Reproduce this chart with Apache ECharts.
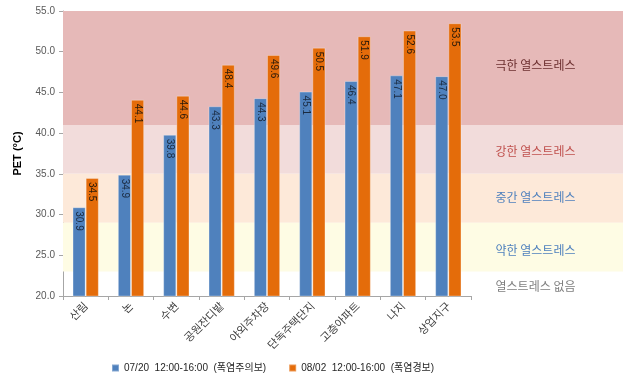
<!DOCTYPE html>
<html>
<head>
<meta charset="utf-8">
<script src="https://cdn.jsdelivr.net/npm/echarts@6/dist/echarts.min.js"></script>
<style>html,body{margin:0;padding:0;background:#fff;}#c{width:623px;height:387px;}</style>
</head>
<body>
<div id="c"></div>
<script>
const categories = ['산림', '논', '수변', '공원잔디밭', '야외주차장', '단독주택단지', '고층아파트', '나지', '상업지구'];
const seriesNames = ['07/20  12:00-16:00  (폭염주의보)', '08/02  12:00-16:00  (폭염경보)'];
const valuesJul20 = [30.9, 34.9, 39.8, 43.3, 44.3, 45.1, 46.4, 47.1, 47.0];
const valuesAug02 = [34.5, 44.1, 44.6, 48.4, 49.6, 50.5, 51.9, 52.6, 53.5];
const bandNames = ['극한 열스트레스', '강한 열스트레스', '중간 열스트레스', '약한 열스트레스', '열스트레스 없음'];
const bandFrom = [41, 35, 29, 23, 20];
const bandTo = [55, 41, 35, 29, 23];
const yMin = 20, yMax = 55, yStep = 5;

const bandColors = ['#E6B9B8', '#F2DCDB', '#FDE9D9', '#FEFCE4', 'rgba(255,255,255,0)'];
const bandTextColors = ['#6B2E2E', '#C0504D', '#4F81BD', '#4F81BD', '#7F7F7F'];
const bandOffsets = [[0, -3], [0, 2], [0, -1], [0, 3], [0, 3]];

const FONT = "'Liberation Sans', 'Noto Sans CJK KR', sans-serif";
const KFONT = "'Noto Sans CJK KR', sans-serif";
const TOP = 11, BOTTOM = 91;

const chart = echarts.init(document.getElementById('c'), null, {renderer: 'canvas'});

const hiddenY = (idx) => ({
  type: 'value', gridIndex: idx, min: yMin, max: yMax, interval: yStep, show: false
});
const hiddenX = (idx) => ({type: 'value', gridIndex: idx, min: 0, max: 1, show: false});

const labelFor = (textColor) => ({
  show: true, position: 'insideTop', distance: 4, rotate: -90,
  align: 'left', verticalAlign: 'middle',
  fontSize: 10, fontFamily: FONT, color: textColor,
  formatter: (p) => p.value.toFixed(1)
});

chart.setOption({
  animation: false,
  textStyle: {fontFamily: FONT},
  grid: [
    {left: 63, right: 0, top: TOP, bottom: BOTTOM, z: 0},
    {left: 448, right: 0, top: TOP, bottom: BOTTOM, z: 1},
    {left: 63, right: 152, top: TOP, bottom: BOTTOM, z: 2}
  ],
  xAxis: [
    hiddenX(0),
    hiddenX(1),
    {
      type: 'category', gridIndex: 2, data: categories,
      axisLine: {lineStyle: {color: '#A6A6A6', width: 1}},
      axisTick: {show: true, length: 4, alignWithLabel: false, lineStyle: {color: '#A6A6A6'}},
      axisLabel: {rotate: 45, fontSize: 11, fontFamily: KFONT, color: '#404040', margin: 8, interval: 0}
    }
  ],
  yAxis: [
    hiddenY(0),
    hiddenY(1),
    {
      type: 'value', gridIndex: 2, min: yMin, max: yMax, interval: yStep,
      name: 'PET (°C)', nameLocation: 'middle', nameGap: 40,
      nameTextStyle: {fontSize: 11, fontWeight: 'bold', color: '#000', fontFamily: FONT},
      axisLine: {show: true, lineStyle: {color: '#A6A6A6'}},
      axisTick: {show: true, length: 4, lineStyle: {color: '#A6A6A6'}},
      splitLine: {show: false},
      axisLabel: {fontSize: 10, color: '#595959', margin: 8, formatter: (v) => v.toFixed(1)}
    }
  ],
  legend: {
    left: 106, top: 358, itemWidth: 7, itemHeight: 7, itemGap: 22, icon: 'rect',
    data: seriesNames,
    textStyle: {fontSize: 10, color: '#262626', fontFamily: FONT}
  },
  series: [
    {
      type: 'scatter', xAxisIndex: 0, yAxisIndex: 0, data: [[0.5, yMin]], symbolSize: 0, silent: true,
      markArea: {
        silent: true,
        data: bandNames.map((n, i) => [
          {yAxis: bandFrom[i], itemStyle: {color: bandColors[i]}},
          {yAxis: bandTo[i]}
        ])
      }
    },
    {
      type: 'scatter', xAxisIndex: 1, yAxisIndex: 1, data: [[0.5, yMin]], symbolSize: 0, silent: true,
      markArea: {
        silent: true,
        data: bandNames.map((n, i) => [
          {yAxis: bandFrom[i], name: n, itemStyle: {color: 'rgba(0,0,0,0)'},
           label: {show: true, position: 'inside', color: bandTextColors[i], fontSize: 12,
                   fontFamily: KFONT, offset: bandOffsets[i]}},
          {yAxis: bandTo[i]}
        ])
      }
    },
    {
      name: seriesNames[0], type: 'bar', xAxisIndex: 2, yAxisIndex: 2, data: valuesJul20,
      barGap: '0%', barCategoryGap: '42%',
      itemStyle: {color: '#4F81BD', borderColor: 'rgba(255,255,255,0.3)', borderWidth: 1},
      label: labelFor('#1A2A40')
    },
    {
      name: seriesNames[1], type: 'bar', xAxisIndex: 2, yAxisIndex: 2, data: valuesAug02,
      itemStyle: {color: '#E46C0A', borderColor: 'rgba(255,255,255,0.3)', borderWidth: 1},
      label: labelFor('#2A1A0A')
    }
  ]
});
</script>
</body>
</html>
